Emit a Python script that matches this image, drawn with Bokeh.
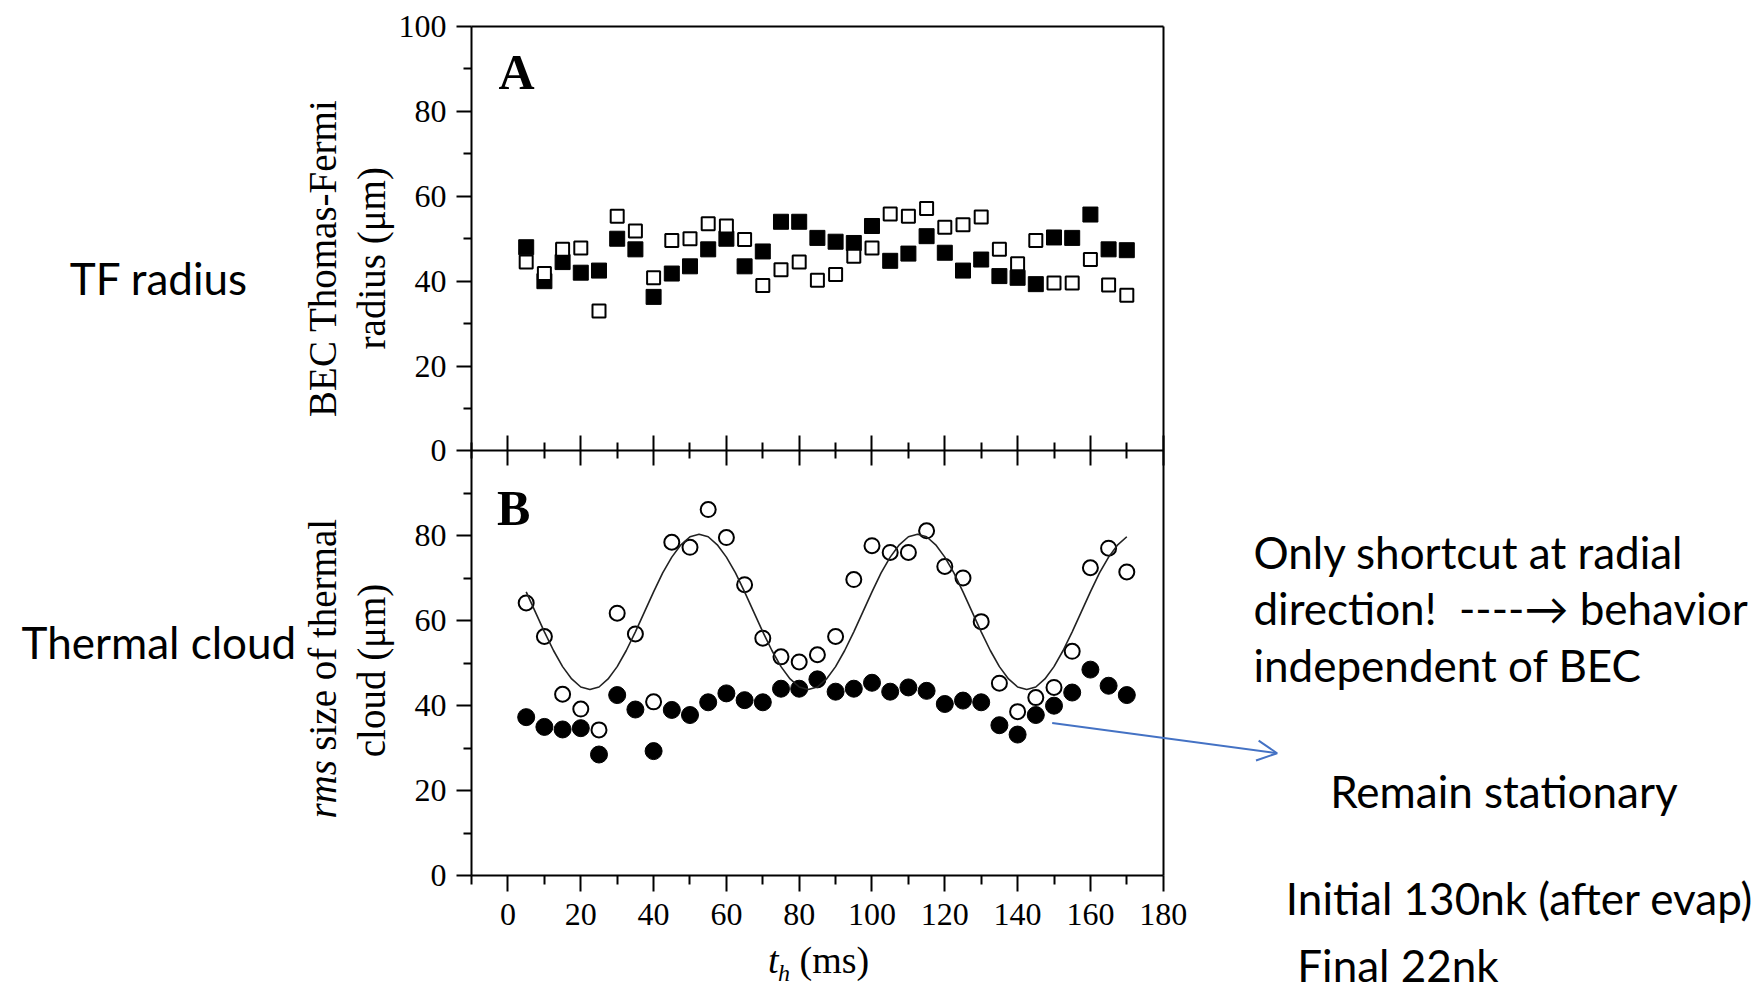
from math import pi
from bokeh.plotting import figure
from bokeh.models import Range1d, FixedTicker, Label, Arrow, OpenHead, LinearAxis
from bokeh.embed import file_html
from bokeh.resources import INLINE

# ---------------- data ----------------
t_ms = [5, 10, 15, 20, 25, 30, 35, 40, 45, 50, 55, 60, 65, 70, 75, 80, 85,
        90, 95, 100, 105, 110, 115, 120, 125, 130, 135, 140, 145, 150, 155,
        160, 165, 170]

# Panel A: BEC Thomas-Fermi radius (um)
tf_filled = [48, 40, 44.5, 42, 42.5, 50, 47.5, 36.3, 41.8, 43.5, 47.5, 50,
             43.5, 47, 54, 54, 50.2, 49.3, 49, 53, 44.8, 46.5, 50.6, 46.7,
             42.5, 45.1, 41.2, 40.8, 39.3, 50.3, 50.2, 55.7, 47.5, 47.3]
tf_open = [44.5, 41.8, 47.5, 47.8, 33.0, 55.3, 51.8, 40.8, 49.6, 50.0, 53.5,
           53.0, 49.8, 39.0, 42.7, 44.5, 40.2, 41.6, 45.9, 47.8, 55.8, 55.3,
           57.1, 52.7, 53.3, 55.1, 47.5, 44.1, 49.6, 39.6, 39.6, 45.1, 39.1,
           36.7]

# Panel B: rms size of thermal cloud (um)
th_open = [64.2, 56.3, 42.7, 39.2, 34.3, 61.8, 56.9, 40.9, 78.5, 77.3, 86.2,
           79.6, 68.5, 55.9, 51.5, 50.3, 52.0, 56.3, 69.7, 77.7, 76.1, 76.1,
           81.2, 72.8, 70.1, 59.8, 45.3, 38.6, 41.9, 44.3, 52.8, 72.5, 77.1,
           71.5]
th_filled = [37.3, 35.0, 34.4, 34.7, 28.5, 42.5, 39.1, 29.3, 39.0, 37.8, 40.8,
             42.9, 41.3, 40.8, 44.0, 44.0, 46.2, 43.3, 44.0, 45.4, 43.3, 44.3,
             43.5, 40.4, 41.2, 40.8, 35.4, 33.2, 37.8, 40.0, 43.1, 48.5, 44.7,
             42.5]

# fitted curve through the open circles
fit_t = [5, 7.5, 10, 12.5, 15, 17.5, 20, 22.5, 25, 27.5, 30, 32.5, 35, 37.5,
         40, 42.5, 45, 47.5, 50, 52.5, 55, 57.5, 60, 62.5, 65, 67.5, 70, 72.5,
         75, 77.5, 80, 82.5, 85, 87.5, 90, 92.5, 95, 97.5, 100, 102.5, 105,
         107.5, 110, 112.5, 115, 117.5, 120, 122.5, 125, 127.5, 130, 132.5,
         135, 137.5, 140, 142.5, 145, 147.5, 150, 152.5, 155, 157.5, 160,
         162.5, 165, 167.5, 170]
fit_v = [66.8, 62.1, 57.4, 53.0, 49.2, 46.3, 44.4, 43.8, 44.4, 46.3, 49.2,
         53.0, 57.4, 62.1, 66.8, 71.3, 75.0, 77.9, 79.8, 80.4, 79.8, 77.9,
         75.0, 71.3, 66.8, 62.1, 57.4, 53.0, 49.2, 46.3, 44.4, 43.8, 44.4,
         46.3, 49.2, 53.0, 57.4, 62.1, 66.8, 71.3, 75.0, 77.9, 79.8, 80.4,
         79.8, 77.9, 75.0, 71.3, 66.8, 62.1, 57.4, 53.0, 49.2, 46.3, 44.4,
         43.8, 44.4, 46.3, 49.2, 53.0, 57.4, 62.1, 66.8, 71.3, 75.0, 77.9,
         79.8]

x_major = [0, 20, 40, 60, 80, 100, 120, 140, 160, 180]
x_minor = [-10, 10, 30, 50, 70, 90, 110, 130, 150, 170]
y_major = [0, 20, 40, 60, 80, 100, 120, 140, 160, 180, 200]
y_minor = [10, 30, 50, 70, 90, 110, 130, 150, 170, 190]
y_labels = ["0", "20", "40", "60", "80", "0", "20", "40", "60", "80", "100"]

SERIF = "Liberation Serif"
SANS = "Lato"

# ---------------- figure (frame = whole page; plot box drawn by fixed axes) ----
p = figure(width=1762, height=993,
           x_range=Range1d(-139.42, 344.64), y_range=Range1d(-27.80, 206.12),
           x_axis_location=None, y_axis_location=None,
           output_backend="svg", toolbar_location=None, min_border=0,
           background_fill_color="white", border_fill_color="white",
           outline_line_color=None)
p.extra_y_ranges = {"A": Range1d(-127.80, 106.12)}
p.grid.visible = False


def make_axis(loc, bounds, ticks, minor, **kw):
    ax = LinearAxis(fixed_location=loc, bounds=bounds,
                    ticker=FixedTicker(ticks=ticks, minor_ticks=minor),
                    axis_line_width=2, axis_line_color="black",
                    major_tick_line_width=2, minor_tick_line_width=2,
                    major_tick_line_color="black", minor_tick_line_color="black",
                    major_label_text_font=SERIF, major_label_text_font_size="32px",
                    major_label_text_color="black", **kw)
    return ax


# bottom axis (panel B)
p.add_layout(make_axis(0, (-10, 180), x_major, x_minor,
                       major_tick_in=0, major_tick_out=16,
                       minor_tick_in=0, minor_tick_out=9,
                       major_label_standoff=13), "below")
# boundary between panels: ticks on both sides, no labels
p.add_layout(make_axis(100, (-10, 180), x_major, x_minor,
                       major_tick_in=15, major_tick_out=15,
                       minor_tick_in=8, minor_tick_out=8,
                       major_label_overrides={t: "" for t in x_major}), "below")
# top and right edges of the box
p.add_layout(make_axis(200, (-10, 180), [], [],
                       major_tick_in=0, major_tick_out=0,
                       minor_tick_in=0, minor_tick_out=0), "above")
p.add_layout(make_axis(180, (0, 200), [], [],
                       major_tick_in=0, major_tick_out=0,
                       minor_tick_in=0, minor_tick_out=0), "right")
# left axis shared by both panels
p.add_layout(make_axis(-10, (0, 200), y_major, y_minor,
                       major_tick_in=0, major_tick_out=15,
                       minor_tick_in=0, minor_tick_out=8,
                       major_label_standoff=10,
                       major_label_overrides={t: s for t, s in zip(y_major, y_labels)}),
             "left")

# panel A
p.scatter(t_ms, tf_filled, marker="square", size=15, fill_color="black",
          line_color="black", y_range_name="A")
p.scatter(t_ms, tf_open, marker="square", size=13, fill_color="white",
          line_color="black", line_width=2, y_range_name="A")

# panel B
p.scatter(t_ms, th_filled, marker="circle", size=17, fill_color="black",
          line_color="black")
p.scatter(t_ms, th_open, marker="circle", size=15, fill_color="white",
          line_color="black", line_width=2)
p.line(fit_t, fit_v, line_color="#222222", line_width=1.6)

# panel letters
p.add_layout(Label(x=-2.6, y=189.3, text="A", text_font=SERIF, text_font_style="bold",
                   text_font_size="50px", text_align="left", text_baseline="alphabetic",
                   text_color="black"))
p.add_layout(Label(x=-3.0, y=86.6, text="B", text_font=SERIF, text_font_style="bold",
                   text_font_size="50px", text_align="left", text_baseline="alphabetic",
                   text_color="black"))


# y-axis titles (rotated)
def rlabel(x, y, text, style="normal", align="center", size="39px"):
    p.add_layout(Label(x=x, y=y, text=text, angle=pi / 2, text_font=SERIF,
                       text_font_style=style, text_font_size=size,
                       text_align=align, text_baseline="alphabetic",
                       text_color="black"))


rlabel(-51.0, 145.4, "BEC Thomas-Fermi")
rlabel(-37.5, 145.4, "radius (\u03bcm)")
rlabel(-51.0, 13.4, "rms", style="italic", align="left")
rlabel(-51.0, 29.4, "size of thermal", align="left")
rlabel(-37.5, 48.3, "cloud (\u03bcm)")

# x-axis title
p.add_layout(Label(x=71.4, y=-19.9, text="t", text_font=SERIF, text_font_style="italic",
                   text_font_size="38px", text_align="left", text_baseline="alphabetic",
                   text_color="black"))
p.add_layout(Label(x=74.2, y=-22.9, text="h", text_font=SERIF, text_font_style="italic",
                   text_font_size="24px", text_align="left", text_baseline="alphabetic",
                   text_color="black"))
p.add_layout(Label(x=80.1, y=-19.9, text="(ms)", text_font=SERIF,
                   text_font_size="38px", text_align="left", text_baseline="alphabetic",
                   text_color="black"))


# slide annotations
def note(x, y, text, align="left"):
    p.add_layout(Label(x=x, y=y, text=text, text_font=SANS, text_font_size="44px",
                       text_align=align, text_baseline="alphabetic", text_color="black"))


note(-95.9, 140.7, "TF radius", align="center")
note(-95.9, 55.1, "Thermal cloud", align="center")
note(204.8, 76.3, "Only shortcut at radial")
note(204.8, 63.0, "direction!\u00a0\u00a0----\u2192 behavior")
note(204.8, 49.6, "independent of BEC")
note(273.6, 19.8, "Remain stationary", align="center")
note(277.9, -5.3, "Initial 130nk (after evap)", align="center")
note(244.5, -21.0, "Final 22nk", align="center")

p.add_layout(Arrow(x_start=149.5, y_start=35.9, x_end=211.3, y_end=28.8,
                   line_color="#4472C4", line_width=2,
                   end=OpenHead(size=20, line_color="#4472C4", line_width=2)))

open("out.html", "w").write(file_html(p, INLINE))
